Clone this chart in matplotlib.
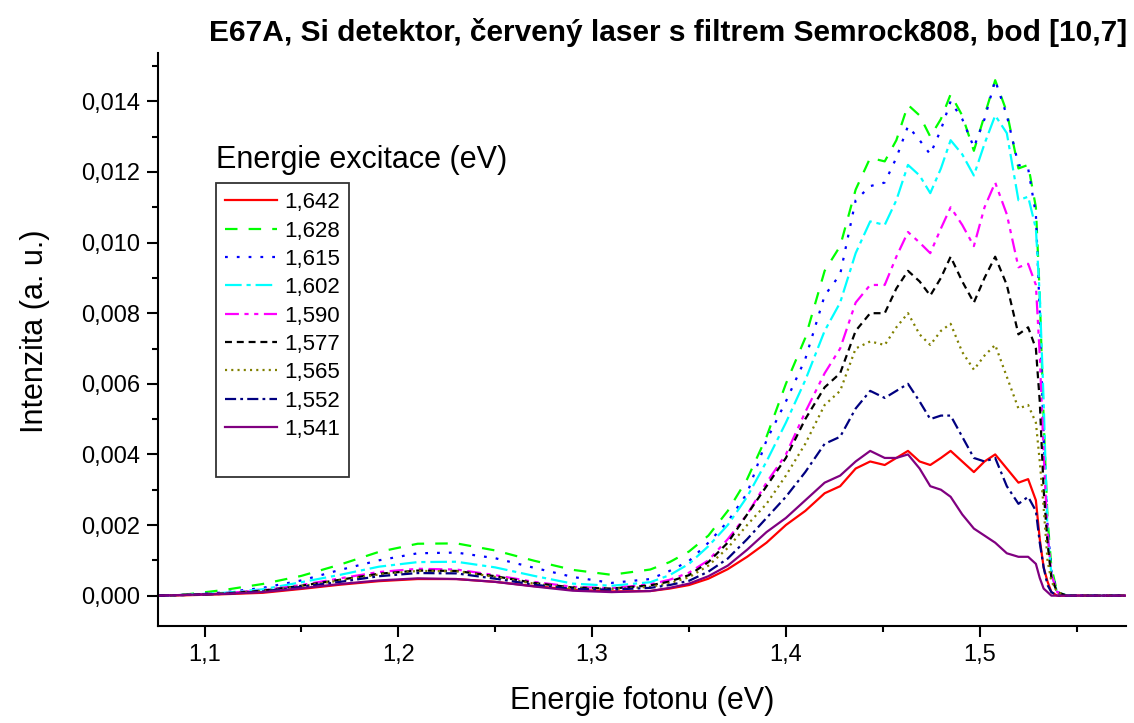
import matplotlib
matplotlib.use("Agg")
import matplotlib.pyplot as plt
from matplotlib.ticker import MultipleLocator, FuncFormatter
from matplotlib.lines import Line2D

plt.rcParams['font.family'] = ['Liberation Sans', 'DejaVu Sans']
plt.rcParams['lines.scale_dashes'] = False

energy = [1.076, 1.09, 1.11, 1.13, 1.15, 1.17, 1.19, 1.21, 1.23, 1.25, 1.27, 1.29,
          1.31, 1.33, 1.34, 1.35, 1.36, 1.37, 1.38, 1.39, 1.40, 1.41, 1.42,
          1.428, 1.436, 1.4435, 1.451, 1.457, 1.463, 1.469, 1.4745, 1.480, 1.485,
          1.491, 1.497, 1.5025, 1.508, 1.514, 1.520, 1.525, 1.529, 1.531, 1.533,
          1.535, 1.537, 1.540, 1.545, 1.555, 1.565, 1.575]

i_1642 = [0, 0.00001, 0.00004, 0.00008, 0.00019, 0.00031, 0.00041, 0.00047, 0.00047, 0.00039, 0.00027, 0.00017,
          0.00012, 0.00013, 0.00020, 0.00030, 0.00048, 0.00075, 0.0011, 0.0015, 0.0020, 0.0024, 0.0029,
          0.0031, 0.0036, 0.0038, 0.0037, 0.0039, 0.0041, 0.0038, 0.0037, 0.0039, 0.0041,
          0.0038, 0.0035, 0.0038, 0.0040, 0.0036, 0.0032, 0.0033, 0.0027, 0.0016, 0.0008,
          0.0004, 0.0001, 0.0, 0.0, 0.0, 0.0, 0.0]
i_1628 = [0, 0.00003, 0.00016, 0.00033, 0.00056, 0.00088, 0.00124, 0.00147, 0.00148, 0.00128, 0.00099, 0.00073,
          0.00059, 0.00074, 0.00095, 0.00125, 0.0017, 0.0024, 0.0033, 0.0045, 0.0060, 0.0073, 0.0092,
          0.0099, 0.0115, 0.0124, 0.0123, 0.0129, 0.0139, 0.0136, 0.0130, 0.0135, 0.0142,
          0.0136, 0.0126, 0.0136, 0.0146, 0.0137, 0.0121, 0.0122, 0.0110, 0.0085, 0.0050,
          0.0022, 0.0008, 0.0001, 0.0, 0.0, 0.0, 0.0]
i_1615 = [0, 0.00002, 0.00009, 0.00022, 0.00043, 0.00073, 0.00100, 0.00120, 0.00122, 0.00106, 0.00079, 0.00053,
          0.00036, 0.00047, 0.00070, 0.00098, 0.0015, 0.0021, 0.0029, 0.0044, 0.0055, 0.0067, 0.0085,
          0.0091, 0.0112, 0.0116, 0.0117, 0.0124, 0.0133, 0.0129, 0.0125, 0.0132, 0.0140,
          0.0135, 0.0127, 0.0135, 0.0146, 0.0136, 0.0122, 0.0121, 0.0108, 0.0080, 0.0045,
          0.0020, 0.0007, 0.0001, 0.0, 0.0, 0.0, 0.0]
i_1602 = [0, 0.00002, 0.00008, 0.00018, 0.00038, 0.00059, 0.00082, 0.00095, 0.00096, 0.00080, 0.00056, 0.00034,
          0.00028, 0.00038, 0.00058, 0.0009, 0.0014, 0.0020, 0.0028, 0.0038, 0.0049, 0.0061, 0.0075,
          0.0083, 0.0097, 0.0106, 0.0105, 0.0112, 0.0122, 0.0119, 0.0114, 0.0121, 0.0129,
          0.0125, 0.0119, 0.0128, 0.0136, 0.0131, 0.0112, 0.0113, 0.0104, 0.0085, 0.0055,
          0.0018, 0.0006, 0.0001, 0.0, 0.0, 0.0, 0.0]
i_1590 = [0, 0.00002, 0.00007, 0.00015, 0.00030, 0.00049, 0.00067, 0.00076, 0.00074, 0.00058, 0.00039, 0.00025,
          0.00021, 0.00032, 0.00045, 0.00065, 0.0010, 0.0016, 0.0023, 0.0032, 0.0040, 0.0052, 0.0063,
          0.0070, 0.0083, 0.0088, 0.0088, 0.0096, 0.0103, 0.0100, 0.0097, 0.0104, 0.0110,
          0.0105, 0.0099, 0.0110, 0.0117, 0.0108, 0.0093, 0.0094, 0.0088, 0.0068, 0.0040,
          0.0018, 0.0006, 0.0001, 0.0, 0.0, 0.0, 0.0]
i_1577 = [0, 0.00002, 0.00006, 0.00014, 0.00028, 0.00045, 0.00062, 0.00071, 0.00070, 0.00055, 0.00036, 0.00023,
          0.00020, 0.00029, 0.00040, 0.00058, 0.00095, 0.0015, 0.0023, 0.0031, 0.0039, 0.0050, 0.0059,
          0.0063, 0.0075, 0.0080, 0.0080, 0.0087, 0.0092, 0.0089, 0.0085, 0.0090, 0.0096,
          0.0089, 0.0083, 0.0090, 0.0096, 0.0088, 0.0074, 0.0076, 0.0070, 0.0055, 0.0030,
          0.0015, 0.0005, 0.0001, 0.0, 0.0, 0.0, 0.0]
i_1565 = [0, 0.00002, 0.00006, 0.00013, 0.00027, 0.00043, 0.00060, 0.00070, 0.00069, 0.00053, 0.00034, 0.00021,
          0.00019, 0.00025, 0.00035, 0.00052, 0.00085, 0.00135, 0.0020, 0.0026, 0.0034, 0.0043, 0.0054,
          0.0058, 0.0070, 0.0072, 0.0071, 0.0076, 0.0080, 0.0074, 0.0071, 0.0075, 0.0077,
          0.0069, 0.0064, 0.0068, 0.0071, 0.0062, 0.0053, 0.0054, 0.0049, 0.0038, 0.0025,
          0.0010, 0.0004, 0.0001, 0.0, 0.0, 0.0, 0.0]
i_1552 = [0, 0.00002, 0.00005, 0.00012, 0.00025, 0.00039, 0.00055, 0.00064, 0.00063, 0.00048, 0.00031, 0.00019,
          0.00017, 0.00022, 0.00030, 0.00042, 0.00068, 0.00105, 0.0016, 0.0022, 0.0028, 0.0035, 0.0043,
          0.0045, 0.0053, 0.0058, 0.0056, 0.0058, 0.0060, 0.0055, 0.0050, 0.0051, 0.0051,
          0.0045, 0.0039, 0.0038, 0.0039, 0.0031, 0.0026, 0.0028, 0.0024, 0.0015, 0.0008,
          0.0003, 0.0001, 0.0, 0.0, 0.0, 0.0, 0.0]
i_1541 = [0, 0.00002, 0.00005, 0.00010, 0.00021, 0.00033, 0.00043, 0.00049, 0.00047, 0.00039, 0.00026, 0.00014,
          0.00010, 0.00013, 0.00022, 0.00034, 0.00055, 0.00085, 0.0013, 0.0018, 0.0022, 0.0027, 0.0032,
          0.0034, 0.0038, 0.0041, 0.0039, 0.0039, 0.0040, 0.0036, 0.0031, 0.0030, 0.0028,
          0.0023, 0.0019, 0.0017, 0.0015, 0.0012, 0.0011, 0.0011, 0.0009, 0.0005, 0.0002,
          0.0001, 0.0, 0.0, 0.0, 0.0, 0.0, 0.0]

labels = ["1,642", "1,628", "1,615", "1,602", "1,590", "1,577", "1,565", "1,552", "1,541"]
series = [i_1642, i_1628, i_1615, i_1602, i_1590, i_1577, i_1565, i_1552, i_1541]
colors = ["#ff0000", "#00ff00", "#0000ff", "#00ffff", "#ff00ff", "#000000", "#808000", "#000080", "#800080"]
styles = ["-", (0, (9, 8)), (0, (2, 6.5)), (0, (12, 3.5, 3, 3.5)), (0, (10, 4, 3, 4, 3, 4)),
          (0, (5, 3.5)), (0, (1.5, 3)), (0, (8, 3, 2, 3)), "-"]

fig = plt.figure(figsize=(11.34, 7.23), dpi=100)
ax = fig.add_axes([158/1134, 97/723, 968/1134, 573/723])

handles = []
for y, lab, c, ls in zip(series, labels, colors, styles):
    h, = ax.plot(energy, y, color=c, linestyle=ls, lw=1.6, label=lab)
    handles.append(h)

ax.set_xlim(1.076, 1.5755)
ax.set_ylim(-0.00086, 0.01537)
ax.xaxis.set_major_locator(MultipleLocator(0.1))
ax.xaxis.set_minor_locator(MultipleLocator(0.05))
ax.yaxis.set_major_locator(MultipleLocator(0.002))
ax.yaxis.set_minor_locator(MultipleLocator(0.001))
ax.xaxis.set_major_formatter(FuncFormatter(lambda v, p: f"{v:.1f}".replace('.', ',')))
ax.yaxis.set_major_formatter(FuncFormatter(lambda v, p: f"{v:.3f}".replace('.', ',')))
ax.spines['top'].set_visible(False)
ax.spines['right'].set_visible(False)
for s in ('left', 'bottom'):
    ax.spines[s].set_linewidth(1.5)
ax.tick_params(which='major', direction='out', length=8, width=1.5, labelsize=17, pad=5)
ax.tick_params(which='minor', direction='out', length=4, width=1.5)

ax.set_xlabel("Energie fotonu (eV)", fontsize=22)
ax.xaxis.set_label_coords(0.5, (626 - 686) / 573)
ax.set_ylabel("Intenzita (a. u.)", fontsize=22)
ax.yaxis.set_label_coords((50 - 158) / 968, 0.515)

fig.text(1127/1134, 1 - 41/723, "E67A, Si detektor, červený laser s filtrem Semrock808, bod [10,7]",
         ha='right', va='baseline', fontsize=21.5, fontweight='bold')

fig.text(216/1134, 1 - 168/723, "Energie excitace (eV)", ha='left', va='baseline', fontsize=22)

blank = Line2D([], [], color='none')
leg = ax.legend(handles + [blank], labels + [" "], loc='upper left',
                bbox_to_anchor=((216-158)/968, (626-183.3)/573), borderaxespad=0,
                fontsize=16, frameon=True, fancybox=False, handlelength=2.35, handletextpad=0.3,
                labelspacing=0.33, borderpad=0.4)
leg.get_frame().set_edgecolor('black')
leg.get_frame().set_linewidth(1.3)

fig.savefig("out.png", dpi=100)
